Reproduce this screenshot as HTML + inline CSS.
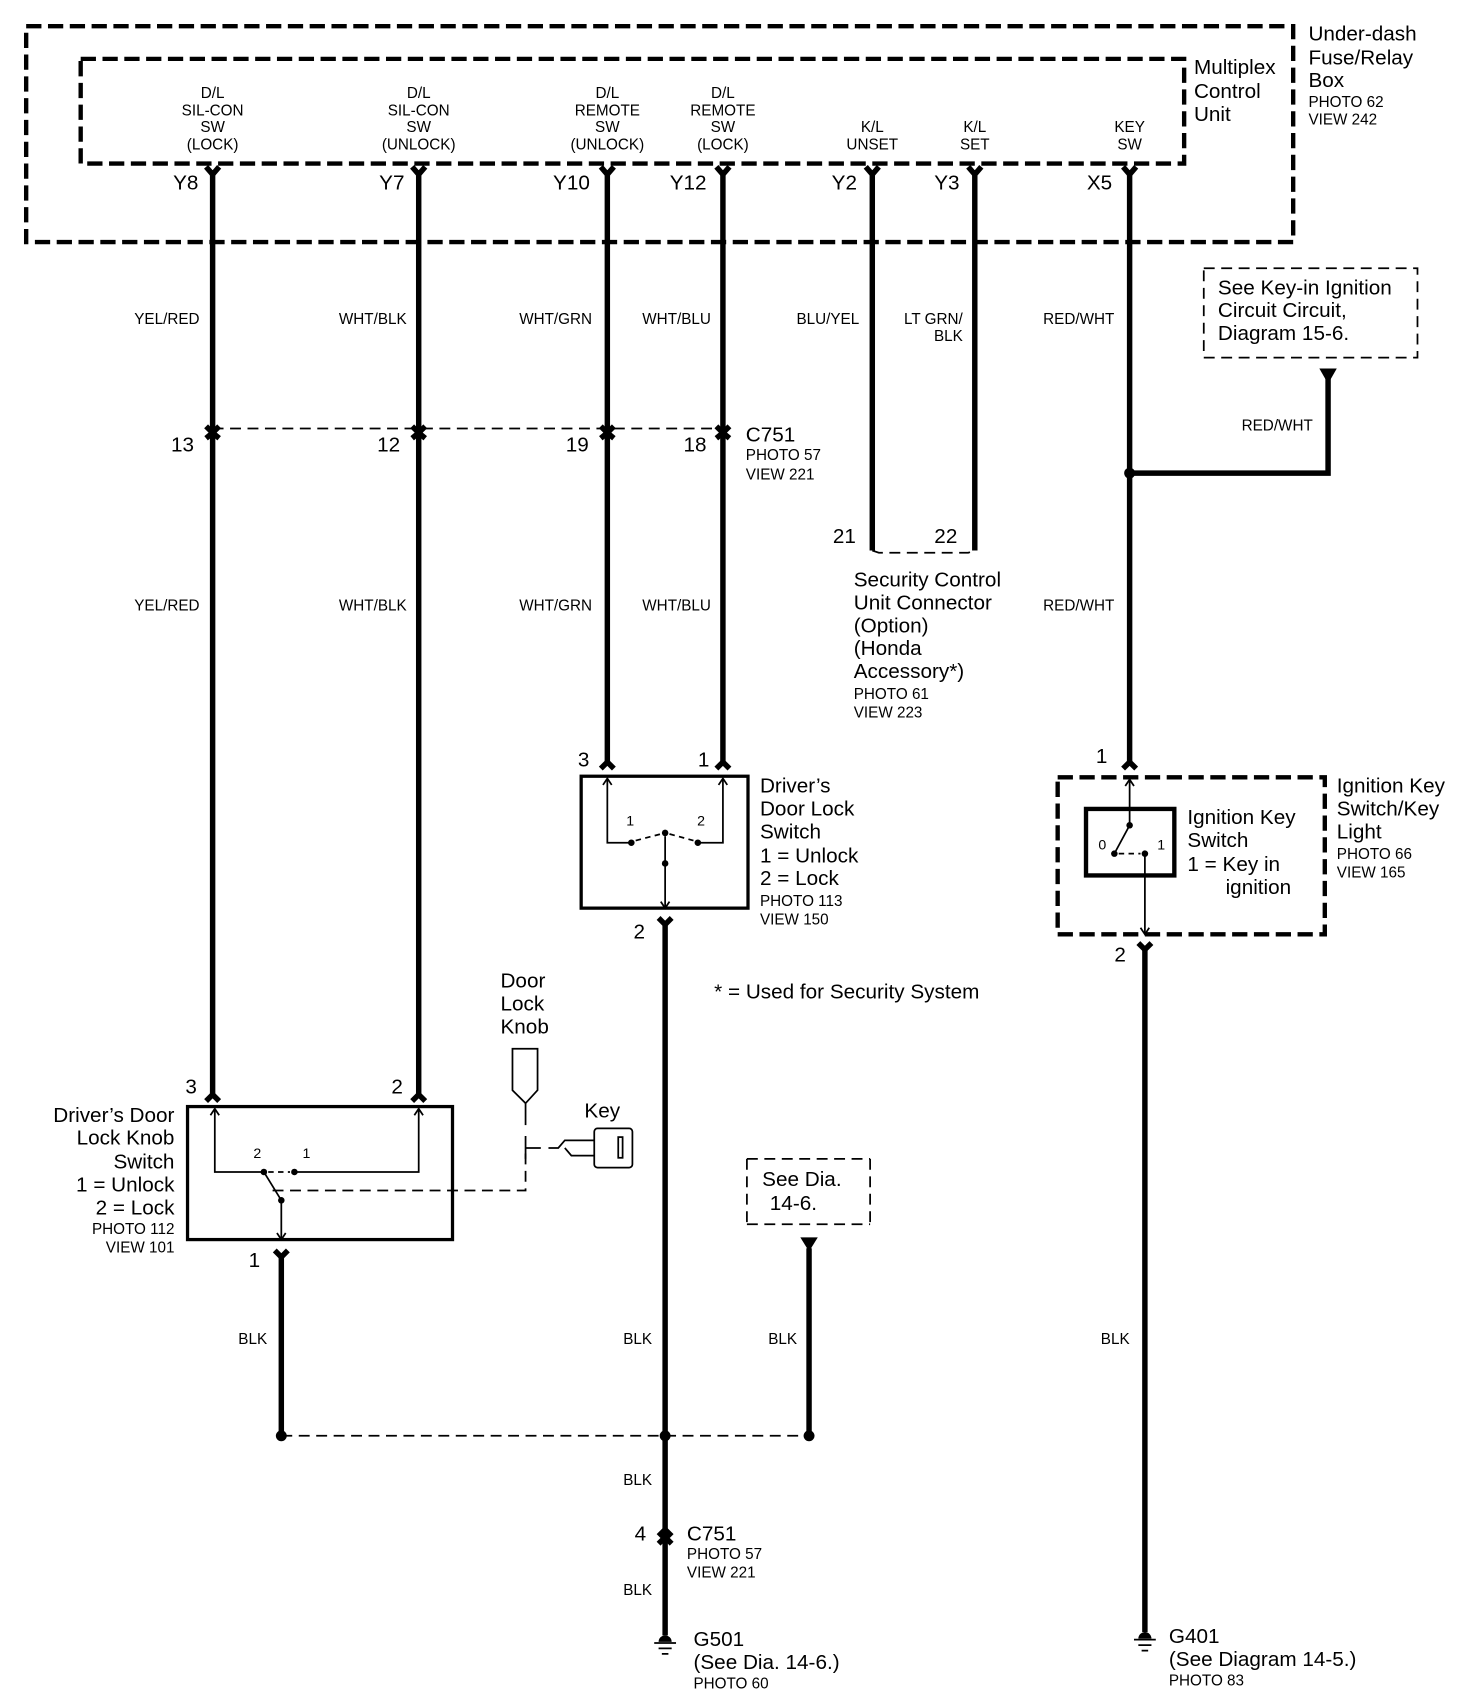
<!DOCTYPE html>
<html><head><meta charset="utf-8"><style>
html,body{margin:0;padding:0;background:#fff}
svg{display:block}
text{font-family:"Liberation Sans",Arial,sans-serif;fill:#000}
.b{font-size:19px}
.s{font-size:14px}
.w{stroke:#000;stroke-width:5;fill:none}
.t{stroke:#000;stroke-width:1.6;fill:none}
.d{stroke:#000;stroke-width:4;fill:none;stroke-dasharray:14 6}
.dt{stroke:#000;stroke-width:1.6;fill:none;stroke-dasharray:10 6}
</style></head><body>
<svg width="1472" height="1704" viewBox="0 0 1350 1563" preserveAspectRatio="none" xmlns="http://www.w3.org/2000/svg">
<rect width="1350" height="1563" fill="#fff"/>
<!-- boxes -->
<rect x="24" y="24" width="1162" height="198" class="d"/>
<rect x="74" y="54" width="1012" height="96" class="d"/>
<g class="b"><text x="1200" y="37">Under-dash</text><text x="1200" y="59">Fuse/Relay</text><text x="1200" y="80">Box</text>
<text x="1095" y="68">Multiplex</text><text x="1095" y="90">Control</text><text x="1095" y="111">Unit</text></g>
<g class="s"><text x="1200" y="98">PHOTO 62</text><text x="1200" y="114">VIEW 242</text></g>
<!-- top labels -->
<g class="s" text-anchor="middle">
<text x="195" y="90">D/L</text><text x="195" y="106">SIL-CON</text><text x="195" y="121">SW</text><text x="195" y="137">(LOCK)</text>
<text x="384" y="90">D/L</text><text x="384" y="106">SIL-CON</text><text x="384" y="121">SW</text><text x="384" y="137">(UNLOCK)</text>
<text x="557" y="90">D/L</text><text x="557" y="106">REMOTE</text><text x="557" y="121">SW</text><text x="557" y="137">(UNLOCK)</text>
<text x="663" y="90">D/L</text><text x="663" y="106">REMOTE</text><text x="663" y="121">SW</text><text x="663" y="137">(LOCK)</text>
<text x="800" y="121">K/L</text><text x="800" y="137">UNSET</text>
<text x="894" y="121">K/L</text><text x="894" y="137">SET</text>
<text x="1036" y="121">KEY</text><text x="1036" y="137">SW</text>
</g>
<g class="b" text-anchor="end">
<text x="182" y="174">Y8</text><text x="371" y="174">Y7</text><text x="541" y="174">Y10</text><text x="648" y="174">Y12</text>
<text x="786" y="174">Y2</text><text x="880" y="174">Y3</text><text x="1020" y="174">X5</text>
<text x="178" y="414">13</text><text x="367" y="414">12</text><text x="540" y="414">19</text><text x="648" y="414">18</text>
<text x="785" y="498">21</text><text x="878" y="498">22</text>
</g>
<!-- wires -->
<g class="w">
<path d="M195 156V1005"/><path d="M384 156V1005"/><path d="M557 156V700"/><path d="M663 156V700"/>
<path d="M800 156V505"/><path d="M894 156V505"/><path d="M1036 156V700"/>
<path d="M1036 434H1218V347"/>
<path d="M610 845V1500"/><path d="M1050 868V1497"/><path d="M258 1150V1317"/><path d="M742 1145V1317"/>
</g>
<!-- top forks -->
<g class="w" stroke-width="3.5">
<path d="M189 153L195 160L201 153"/><path d="M378 153L384 160L390 153"/><path d="M551 153L557 160L563 153"/><path d="M657 153L663 160L669 153"/>
<path d="M794 153L800 160L806 153"/><path d="M888 153L894 160L900 153"/><path d="M1030 153L1036 160L1042 153"/>
<path d="M189 391L195 397L201 391M189 402L195 397L201 402"/><path d="M378 391L384 397L390 391M378 402L384 397L390 402"/>
<path d="M551 391L557 397L563 391M551 402L557 397L563 402"/><path d="M657 391L663 397L669 391M657 402L663 397L669 402"/>
<path d="M551 705L557 699L563 705"/><path d="M657 705L663 699L669 705"/><path d="M1030 705L1036 699L1042 705"/>
<path d="M604 848L610 842L616 848" transform="rotate(180 610 845)"/>
<path d="M1044 871L1050 865L1056 871" transform="rotate(180 1050 868)"/>
<path d="M189 1010L195 1004L201 1010"/><path d="M378 1010L384 1004L390 1010"/>
<path d="M252 1153L258 1147L264 1153" transform="rotate(180 258 1150)"/>
<path d="M604 1409L610 1403L616 1409M604 1416L610 1410L616 1416"/>
</g>
<path d="M195 393H663" class="dt" stroke-width="1.8"/>
<path d="M800 505L806 507H888L894 505" class="dt"/>
<!-- wire labels -->
<g class="s" text-anchor="end">
<text x="183" y="297">YEL/RED</text><text x="373" y="297">WHT/BLK</text><text x="543" y="297">WHT/GRN</text><text x="652" y="297">WHT/BLU</text>
<text x="788" y="297">BLU/YEL</text><text x="883" y="297">LT GRN/</text><text x="883" y="313">BLK</text><text x="1022" y="297">RED/WHT</text>
<text x="1204" y="395">RED/WHT</text>
<text x="183" y="560">YEL/RED</text><text x="373" y="560">WHT/BLK</text><text x="543" y="560">WHT/GRN</text><text x="652" y="560">WHT/BLU</text><text x="1022" y="560">RED/WHT</text>
<text x="245" y="1233">BLK</text><text x="598" y="1233">BLK</text><text x="731" y="1233">BLK</text><text x="1036" y="1233">BLK</text>
<text x="598" y="1362">BLK</text><text x="598" y="1463">BLK</text>
</g>
<!-- C751 -->
<text x="684" y="405" class="b">C751</text><text x="684" y="422" class="s">PHOTO 57</text><text x="684" y="440" class="s">VIEW 221</text>
<!-- see key-in box -->
<rect x="1104" y="246" width="196" height="82" class="dt" stroke-width="2.2" stroke-dasharray="14 8"/>
<g class="b"><text x="1117" y="270">See Key-in Ignition</text><text x="1117" y="291">Circuit Circuit,</text><text x="1117" y="312">Diagram 15-6.</text></g>
<path d="M1210 338H1226L1218 352Z" fill="#000"/>
<circle cx="1036" cy="434" r="5" fill="#000"/>
<!-- security -->
<g class="b"><text x="783" y="538">Security Control</text><text x="783" y="559">Unit Connector</text><text x="783" y="580">(Option)</text><text x="783" y="601">(Honda</text><text x="783" y="622">Accessory*)</text></g>
<text x="783" y="641" class="s">PHOTO 61</text><text x="783" y="658" class="s">VIEW 223</text>
<!-- middle switch -->
<text x="530" y="703" class="b">3</text><text x="640" y="703" class="b">1</text>
<rect x="533" y="712" width="153" height="121" fill="none" stroke="#000" stroke-width="3"/>
<g class="t"><path d="M557 715V773H579"/><path d="M663 715V773H640"/><path d="M610 767V833"/>
<path d="M553 720L557 714L561 720M659 720L663 714L667 720M606 827L610 833L614 827"/>
<path d="M583 771L606 765M614 765L636 771" stroke-dasharray="5 4"/></g>
<circle cx="579" cy="773" r="3" fill="#000"/><circle cx="640" cy="773" r="3" fill="#000"/><circle cx="610" cy="764" r="3" fill="#000"/><circle cx="610" cy="792" r="3" fill="#000"/>
<text x="578" y="757" font-size="13" text-anchor="middle">1</text><text x="643" y="757" font-size="13" text-anchor="middle">2</text>
<g class="b"><text x="697" y="727">Driver’s</text><text x="697" y="748">Door Lock</text><text x="697" y="769">Switch</text><text x="697" y="791">1 =  Unlock</text><text x="697" y="812">2 =  Lock</text></g>
<text x="697" y="831" class="s">PHOTO 113</text><text x="697" y="848" class="s">VIEW 150</text>
<text x="581" y="861" class="b">2</text>
<text x="655" y="916" class="b">* = Used for Security  System</text>
<!-- ignition -->
<text x="1005" y="700" class="b">1</text>
<rect x="970" y="713" width="245" height="144" class="d" stroke-width="3.5"/>
<rect x="996" y="742" width="81" height="61" fill="none" stroke="#000" stroke-width="4"/>
<g class="t"><path d="M1036 716V757L1022 783"/><path d="M1026 783H1046" stroke-dasharray="5 4"/><path d="M1050 783V857"/>
<path d="M1032 721L1036 715L1040 721M1046 851L1050 857L1054 851"/></g>
<circle cx="1036" cy="757" r="3" fill="#000"/><circle cx="1022" cy="783" r="3" fill="#000"/><circle cx="1050" cy="783" r="3" fill="#000"/>
<text x="1011" y="779" font-size="13" text-anchor="middle">0</text><text x="1065" y="779" font-size="13" text-anchor="middle">1</text>
<g class="b"><text x="1089" y="756">Ignition Key</text><text x="1089" y="777">Switch</text><text x="1089" y="799">1 = Key in</text><text x="1124" y="820">ignition</text>
<text x="1226" y="727">Ignition Key</text><text x="1226" y="748">Switch/Key</text><text x="1226" y="769">Light</text></g>
<text x="1226" y="788" class="s">PHOTO 66</text><text x="1226" y="805" class="s">VIEW 165</text>
<text x="1022" y="882" class="b">2</text>
<!-- lower left switch -->
<text x="170" y="1003" class="b">3</text><text x="359" y="1003" class="b">2</text>
<rect x="172" y="1015" width="243" height="122" fill="none" stroke="#000" stroke-width="3"/>
<g class="t"><path d="M197 1018V1075H242"/><path d="M384 1018V1075H270"/><path d="M242 1075L258 1101V1137"/>
<path d="M246 1075H266" stroke-dasharray="5 4"/><path d="M250 1092H482V1052" stroke-dasharray="10 6"/>
<path d="M193 1023L197 1017L201 1023M380 1023L384 1017L388 1023M254 1131L258 1137L262 1131"/>
<path d="M470 962H493V1000L482 1012L470 1000Z"/><path d="M482 1012V1032"/><path d="M482 1042V1063M482 1053H496M503 1053H512L518 1046H545M518 1053L524 1060H545"/>
<rect x="545" y="1035" width="35" height="36" rx="3"/><rect x="567" y="1043" width="4" height="19"/></g>
<circle cx="242" cy="1075" r="3" fill="#000"/><circle cx="270" cy="1075" r="3" fill="#000"/><circle cx="258" cy="1101" r="3" fill="#000"/>
<text x="236" y="1062" font-size="13" text-anchor="middle">2</text><text x="281" y="1062" font-size="13" text-anchor="middle">1</text>
<g class="b"><text x="459" y="906">Door</text><text x="459" y="927">Lock</text><text x="459" y="948">Knob</text><text x="536" y="1025">Key</text></g>
<g class="b" text-anchor="end"><text x="160" y="1029">Driver’s Door</text><text x="160" y="1050">Lock Knob</text><text x="160" y="1072">Switch</text><text x="160" y="1093">1 = Unlock</text><text x="160" y="1114">2 = Lock</text></g>
<g class="s" text-anchor="end"><text x="160" y="1132">PHOTO 112</text><text x="160" y="1149">VIEW 101</text></g>
<text x="228" y="1162" class="b">1</text>
<!-- see dia box -->
<path d="M685 1063H798M685 1123H798M685 1063V1123M798 1063V1123" class="dt" stroke-width="2" stroke-dasharray="12 8"/>
<text x="699" y="1088" class="b">See Dia.</text><text x="706" y="1110" class="b">14-6.</text>
<path d="M734 1135H750L742 1148Z" fill="#000"/>
<!-- bottom bus -->
<path d="M258 1317H742" class="dt" stroke-width="1.8"/>
<circle cx="258" cy="1317" r="5" fill="#000"/><circle cx="610" cy="1317" r="5" fill="#000"/><circle cx="742" cy="1317" r="5" fill="#000"/>
<text x="582" y="1413" class="b">4</text>
<text x="630" y="1413" class="b">C751</text><text x="630" y="1430" class="s">PHOTO 57</text><text x="630" y="1447" class="s">VIEW 221</text>
<!-- grounds -->
<g><path d="M604 1506A6 6 0 0 1 616 1506Z" fill="#000"/><path d="M600 1507H620M604 1512H616M607 1517H613" stroke="#000" stroke-width="1.6"/></g>
<g><path d="M1044 1503A6 6 0 0 1 1056 1503Z" fill="#000"/><path d="M1040 1504H1060M1044 1509H1056M1047 1514H1053" stroke="#000" stroke-width="1.6"/></g>
<g class="b"><text x="636" y="1510">G501</text><text x="636" y="1531">(See Dia. 14-6.)</text><text x="1072" y="1507">G401</text><text x="1072" y="1528">(See Diagram 14-5.)</text></g>
<text x="636" y="1549" class="s">PHOTO 60</text><text x="1072" y="1546" class="s">PHOTO 83</text>
</svg>
</body></html>
